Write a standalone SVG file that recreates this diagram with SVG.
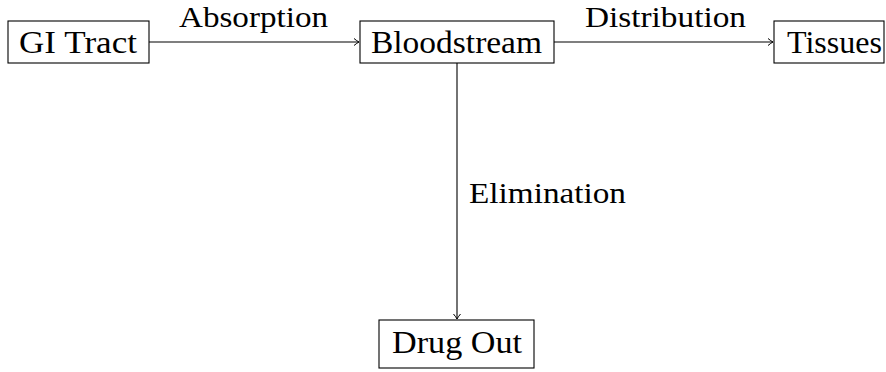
<svg xmlns="http://www.w3.org/2000/svg" width="886" height="372" viewBox="0 0 886 372">
<style>
.box{fill:#fff;stroke:#000;stroke-width:1.1}
.t{font-family:"Liberation Serif","Times New Roman",serif;font-size:32px;fill:#000}
.l{font-family:"Liberation Serif","Times New Roman",serif;font-size:30px;fill:#000}
.c{fill:none;stroke:#000;stroke-width:1.1}
</style>
<defs>
<marker id="ah" markerWidth="10" markerHeight="10" refX="7" refY="5" orient="auto" markerUnits="userSpaceOnUse">
<path d="M2,1.5 Q5,4 7,5 Q5,6 2,8.5" fill="none" stroke="#000" stroke-width="1"/>
</marker>
</defs>
<g id="connectors">
<line class="c" x1="149" y1="42" x2="359" y2="42" marker-end="url(#ah)"/>
<line class="c" x1="554" y1="42" x2="773" y2="42" marker-end="url(#ah)"/>
<line class="c" x1="457" y1="63" x2="457" y2="319" marker-end="url(#ah)"/>
<text class="l" x="179" y="27" textLength="149" lengthAdjust="spacingAndGlyphs">Absorption</text>
<text class="l" x="585" y="27" textLength="161" lengthAdjust="spacingAndGlyphs">Distribution</text>
<text class="l" x="469" y="203" textLength="157" lengthAdjust="spacingAndGlyphs">Elimination</text>
</g>
<g id="gi">
<rect class="box" x="8" y="21" width="141" height="42"/>
<text class="t" x="19" y="53" textLength="118" lengthAdjust="spacingAndGlyphs">GI Tract</text>
</g>
<g id="blood">
<rect class="box" x="360" y="21" width="194" height="42"/>
<text class="t" x="371" y="53" textLength="171" lengthAdjust="spacingAndGlyphs">Bloodstream</text>
</g>
<g id="tissues">
<rect class="box" x="774" y="21" width="110" height="42"/>
<text class="t" x="787" y="53" textLength="95" lengthAdjust="spacingAndGlyphs">Tissues</text>
</g>
<g id="drugout">
<rect class="box" x="379" y="320" width="155" height="48"/>
<text class="t" x="392" y="353" textLength="130" lengthAdjust="spacingAndGlyphs">Drug Out</text>
</g>
</svg>
